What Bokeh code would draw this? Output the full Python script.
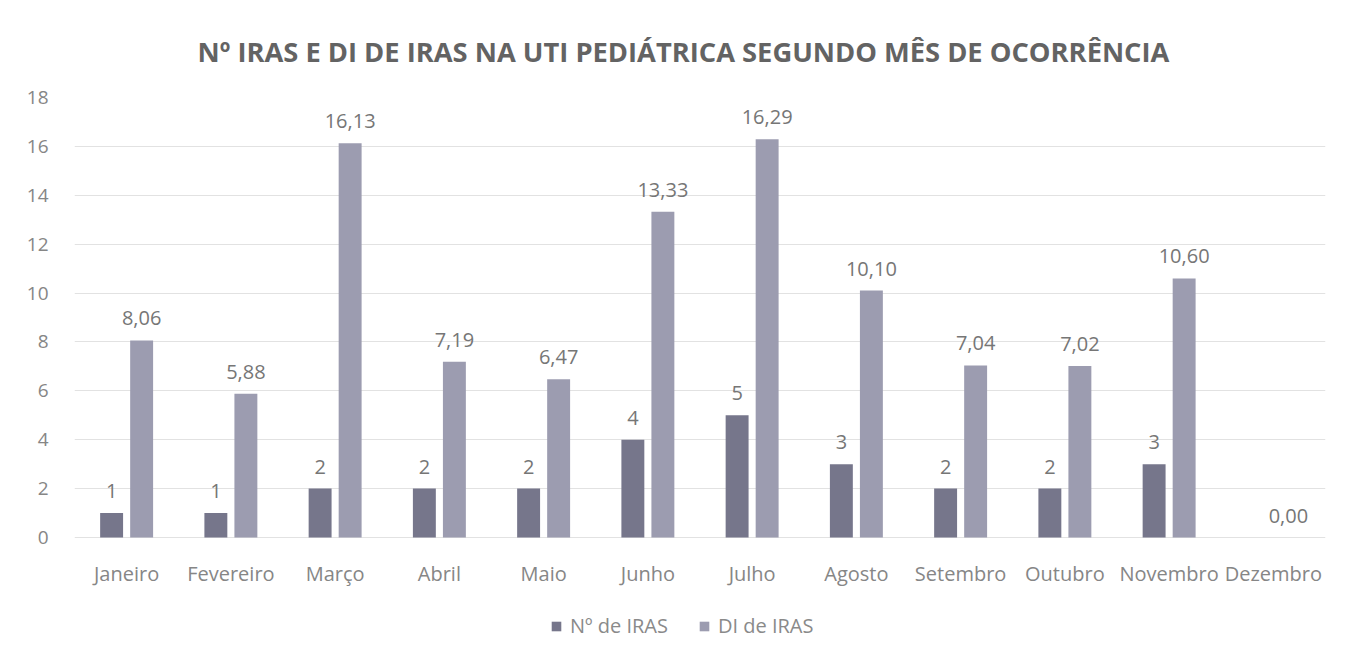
from bokeh.plotting import figure
from bokeh.models import ColumnDataSource, FactorRange, Legend, LegendItem, FixedTicker, LabelSet
from bokeh.transform import dodge
from bokeh.core.properties import value
from bokeh.embed import file_html
from bokeh.resources import INLINE

months = ["Janeiro", "Fevereiro", "Março", "Abril", "Maio", "Junho", "Julho",
          "Agosto", "Setembro", "Outubro", "Novembro", "Dezembro"]
n_iras = [1, 1, 2, 2, 2, 4, 5, 3, 2, 2, 3, 0]
di_iras = [8.06, 5.88, 16.13, 7.19, 6.47, 13.33, 16.29, 10.10, 7.04, 7.02, 10.60, 0.00]
y_ticks = [0, 2, 4, 6, 8, 10, 12, 14, 16, 18]

title_text = "Nº IRAS E DI DE IRAS NA UTI PEDIÁTRICA SEGUNDO MÊS DE OCORRÊNCIA"
series_names = ["Nº de IRAS", "DI de IRAS"]

FONT = "Open Sans"
c1 = "#76768b"
c2 = "#9c9cb0"

src = ColumnDataSource(dict(
    month=months,
    zero=[0] * len(months),
    n=n_iras,
    di=di_iras,
    n_lab=[str(v) if v > 0 else "" for v in n_iras],
    di_lab=[f"{v:.2f}".replace(".", ",") for v in di_iras],
))

# frame extends below the zero line so the category labels and legend sit inside it
p = figure(x_range=FactorRange(*months), y_range=(-4.418, 18),
           width=1337, height=650, output_backend="svg", toolbar_location=None,
           min_border_left=74, min_border_right=12, min_border_top=97, min_border_bottom=5)

p.title.text = title_text
p.title.align = "left"
p.title.offset = 123
p.title.text_font = FONT
p.title.text_font_size = "27.3px"
p.title.text_font_style = "bold"
p.title.text_color = "#636363"
p.title.standoff = 56

r1 = p.vbar(x=dodge("month", -0.144, range=p.x_range), top="n", width=0.22,
            source=src, fill_color=c1, line_color=None)
r2 = p.vbar(x=dodge("month", 0.144, range=p.x_range), top="di", width=0.22,
            source=src, fill_color=c2, line_color=None)

lab1 = LabelSet(x=dodge("month", -0.144, range=p.x_range), y="n", text="n_lab", source=src,
                text_align="center", text_baseline="bottom", y_offset=15,
                text_font=value(FONT), text_font_size="20px", text_color="#767676")
lab2 = LabelSet(x=dodge("month", 0.144, range=p.x_range), y="di", text="di_lab", source=src,
                text_align="center", text_baseline="bottom", y_offset=15,
                text_font=value(FONT), text_font_size="20px", text_color="#767676")
cat_lab = LabelSet(x="month", y="zero", text="month", source=src,
                   text_align="center", text_baseline="top", y_offset=-22,
                   text_font=value(FONT), text_font_size="20px", text_color="#868686")
p.add_layout(lab1)
p.add_layout(lab2)
p.add_layout(cat_lab)

p.xaxis.visible = False
p.yaxis.ticker = FixedTicker(ticks=y_ticks)
ax = p.yaxis[0]
ax.axis_line_color = None
ax.major_tick_line_color = None
ax.minor_tick_line_color = None
ax.major_label_text_font = FONT
ax.major_label_text_color = "#868686"
ax.major_label_text_font_size = "19px"
ax.major_label_standoff = 20
p.xgrid.grid_line_color = None
p.ygrid.ticker = FixedTicker(ticks=y_ticks)
p.ygrid.grid_line_color = "#e2e2e2"
p.outline_line_color = None

legend = Legend(items=[LegendItem(label=series_names[0], renderers=[r1]),
                       LegendItem(label=series_names[1], renderers=[r2])],
                orientation="horizontal", location=(476, 6),
                label_text_font=FONT, label_text_font_size="20px", label_text_color="#8a8a8a",
                glyph_width=12, glyph_height=12, spacing=30, label_standoff=8,
                border_line_color=None, background_fill_alpha=0, margin=0, padding=4)
p.add_layout(legend)

open("out.html", "w").write(file_html(p, INLINE))
